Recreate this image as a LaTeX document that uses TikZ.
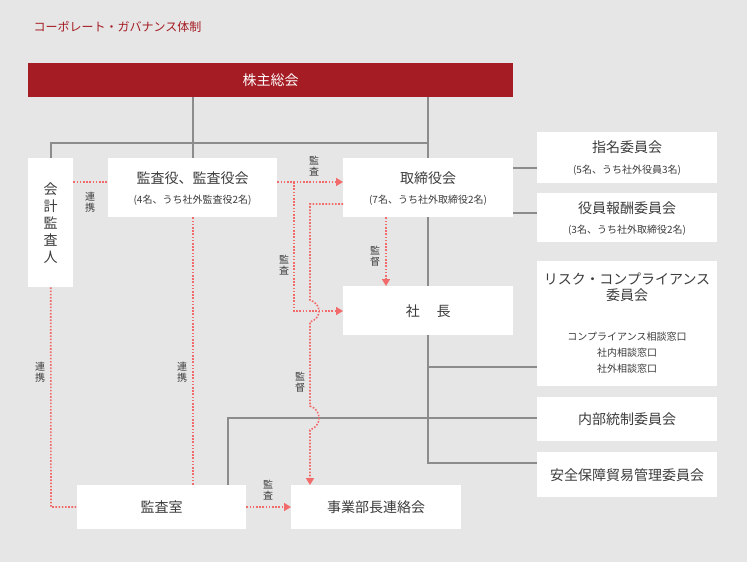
\documentclass[tikz,border=0pt]{standalone}
\usepackage{fontspec}
\setmainfont{Noto Sans CJK JP}
\usetikzlibrary{arrows.meta}
\definecolor{bg}{HTML}{E6E6E6}
\definecolor{dred}{HTML}{A51C24}
\definecolor{ln}{HTML}{8C8C8C}
\definecolor{pk}{HTML}{F26B6B}
\definecolor{tx}{HTML}{3C3C3C}
\tikzset{
 box/.style={fill=white,draw=none,inner sep=0pt,text=tx,align=center},
 gl/.style={ln,line width=1.6pt},
 rl/.style={pk,line width=1.6pt,dash pattern=on 1.6pt off 1.6pt},
 ra/.style={rl,-{Triangle[length=7pt,width=8pt,fill=pk]}},
 lab/.style={text=tx,font=\fontsize{10}{11}\selectfont,align=center,inner sep=0pt},
 bt/.style={font=\fontsize{14}{16}\selectfont},
 st/.style={font=\fontsize{10}{12}\selectfont},
}
\newcommand{\bx}[5]{\node[box,minimum width=#3-#1,minimum height=#4-#2,anchor=north west] (#5) at (#1,#2) {};}
\begin{document}
\begin{tikzpicture}[x=1pt,y=-1pt]
\fill[bg] (0,0) rectangle (747,562);
\useasboundingbox (0,0) rectangle (747,562);
\node[anchor=west,text=dred,font=\fontsize{12}{14}\selectfont] (title) at (30,27) {コーポレート・ガバナンス体制};
% gray lines
\draw[gl] (193,97)--(193,158);
\draw[gl] (51,158)--(51,143)--(428,143);
\draw[gl] (428,97)--(428,463)--(537,463);
\draw[gl] (513,168)--(537,168);
\draw[gl] (513,213)--(537,213);
\draw[gl] (428,367)--(537,367);
\draw[gl] (228,485)--(228,418)--(537,418);
% top bar
\node[fill=dred,minimum width=485,minimum height=34,inner sep=0,anchor=north west,text=white,font=\fontsize{14}{16}\selectfont] (kabu) at (28,63) {};
\node[text=white,bt] at (kabu) {株主総会};
% boxes
\bx{28}{158}{73}{287}{kaikei}
\node[lab,font=\fontsize{14}{17}\selectfont] at (kaikei) {会\\計\\監\\査\\人};
\bx{108}{158}{277}{217}{kansa}
\node[text=tx,bt] at (192.5,178) {監査役、監査役会};
\node[text=tx,st] at (192.5,200) {(4名、うち社外監査役2名)};
\bx{343}{158}{513}{217}{tori}
\node[text=tx,bt] at (428,178) {取締役会};
\node[text=tx,st] at (428,200) {(7名、うち社外取締役2名)};
\bx{343}{286}{513}{335}{shacho}
\node[text=tx,bt] at (shacho) {社\hspace{1.2em}長};
\bx{537}{132}{717}{183}{shimei}
\node[text=tx,bt] at (627,147) {指名委員会};
\node[text=tx,st] at (627,170) {(5名、うち社外役員3名)};
\bx{537}{193}{717}{242}{hoshu}
\node[text=tx,bt] at (627,208) {役員報酬委員会};
\node[text=tx,st] at (627,230) {(3名、うち社外取締役2名)};
\bx{537}{261}{717}{386}{risk}
\node[text=tx,bt,align=center] at (627,287) {リスク・コンプライアンス\\委員会};
\node[text=tx,font=\fontsize{10}{16}\selectfont,align=center] at (627,353) {コンプライアンス相談窓口\\社内相談窓口\\社外相談窓口};
\bx{537}{397}{717}{441}{naibu}
\node[text=tx,bt] at (naibu) {内部統制委員会};
\bx{537}{452}{717}{497}{anzen}
\node[text=tx,bt] at (anzen) {安全保障貿易管理委員会};
\bx{77}{485}{246}{529}{kansashitsu}
\node[text=tx,bt] at (kansashitsu) {監査室};
\bx{291}{485}{461}{529}{jigyo}
\node[text=tx,bt] at (jigyo) {事業部長連絡会};
% red connectors
\draw[rl] (kaikei.east|-0,182)--(kansa.west|-0,182);
\node[lab] at (90,202) {連\\携};
\draw[ra] (kansa.east|-0,182)--(tori.west|-0,182);
\node[lab] at (314,166) {監\\査};
\draw[ra] (294,182)--(294,311)--(shacho.west|-0,311);
\node[lab] at (284,265) {監\\査};
\draw[ra] (tori.south-|386,0)--(shacho.north-|386,0);
\node[lab] at (375,256) {監\\督};
\draw[ra] (tori.west|-0,204)--(310,204)--(310,300) .. controls (322,304) and (322,318) .. (310,322)--(310,406) .. controls (322,410) and (322,426) .. (310,430)--(jigyo.north-|310,0);
\node[lab] at (300,382) {監\\督};
\draw[rl] (kaikei.south)--(51,507)--(kansashitsu.west|-0,507);
\node[lab] at (40,372) {連\\携};
\draw[rl] (kansa.south-|193,0)--(kansashitsu.north-|193,0);
\node[lab] at (182,372) {連\\携};
\draw[ra] (kansashitsu.east|-0,507)--(jigyo.west|-0,507);
\node[lab] at (268,490) {監\\査};
\end{tikzpicture}
\end{document}
